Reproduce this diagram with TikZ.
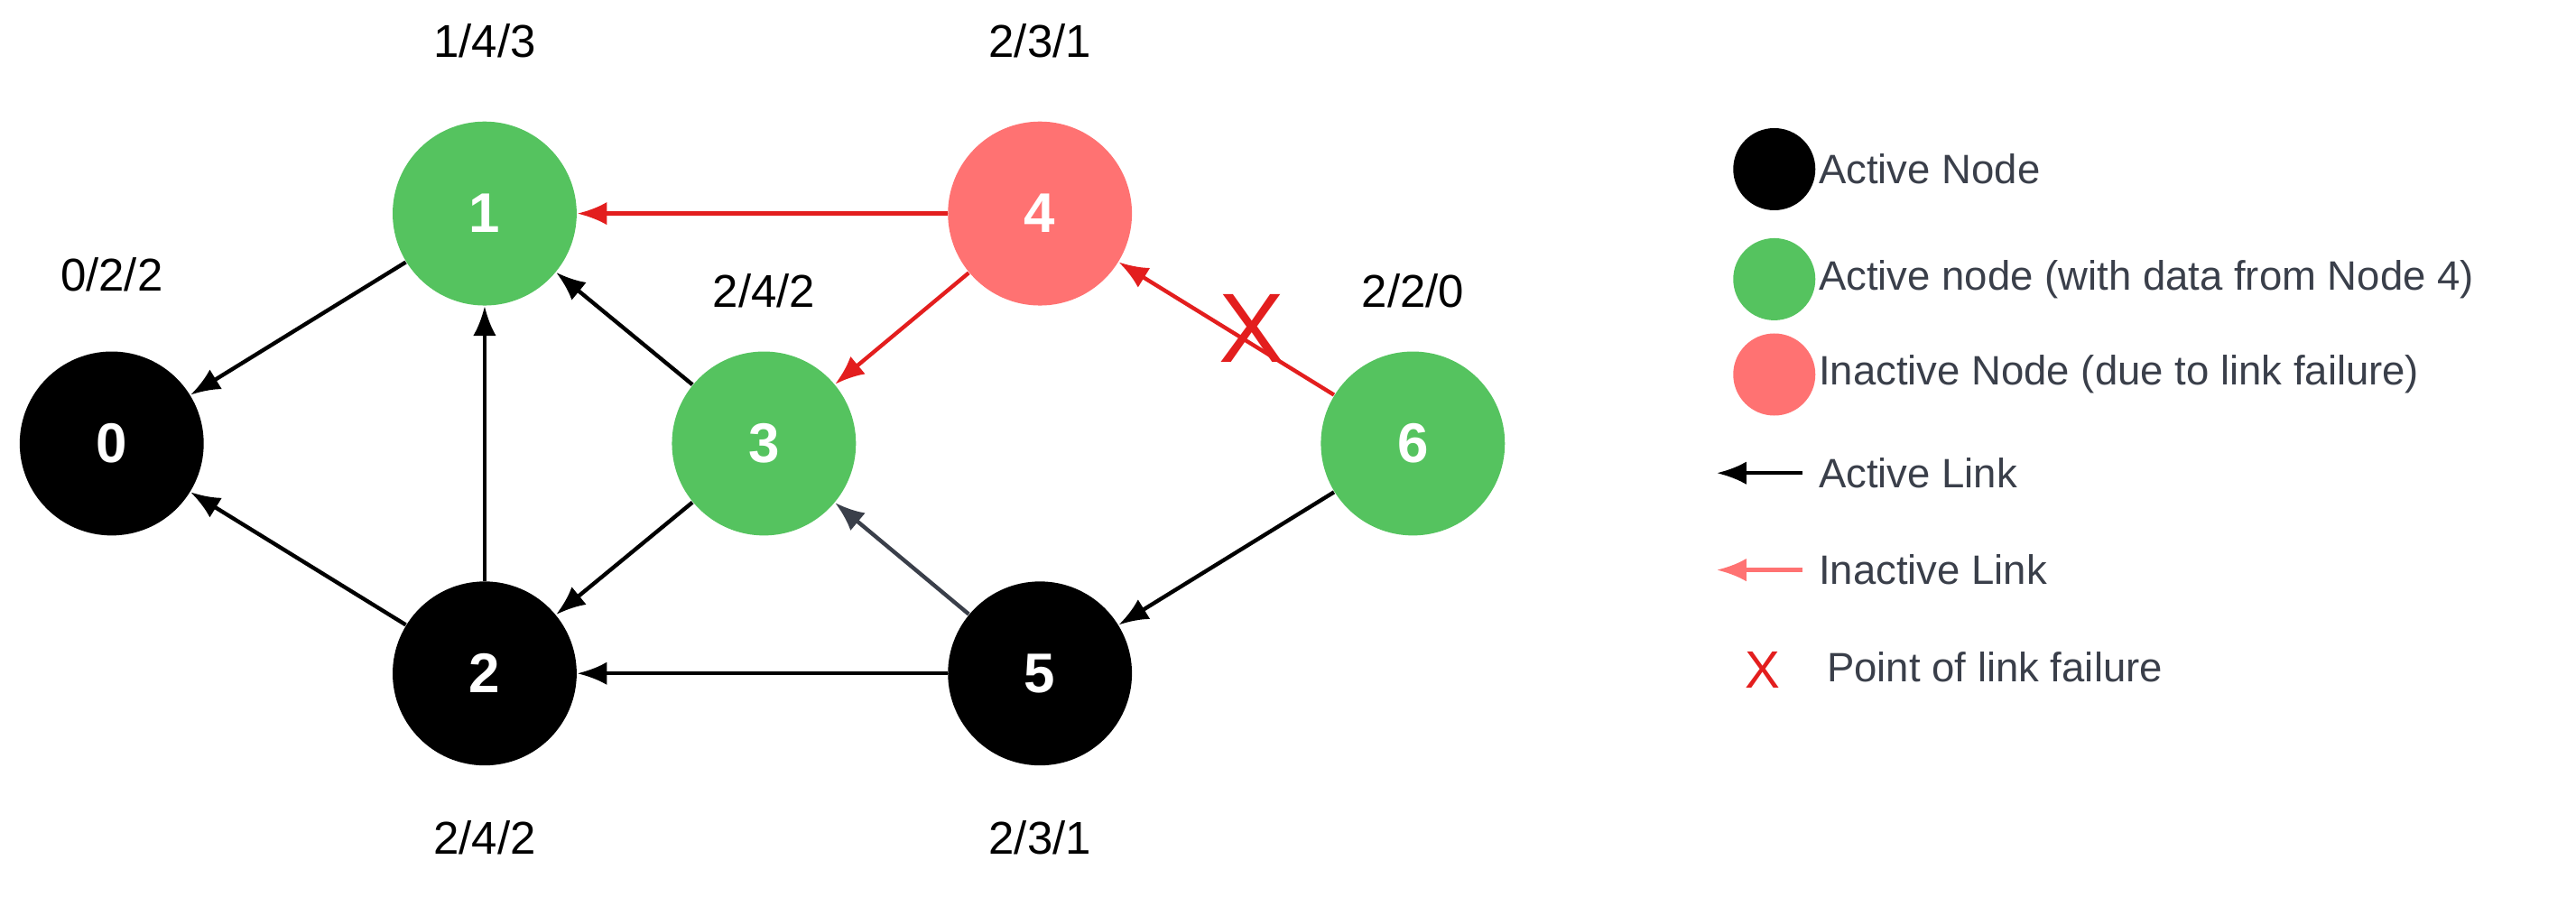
\documentclass[tikz,border=0pt]{standalone}
\usepackage{fontspec}
\setmainfont{Liberation Sans}
\usetikzlibrary{arrows.meta}
\definecolor{gr}{HTML}{55C35F}
\definecolor{pk}{HTML}{FF7272}
\definecolor{rd}{HTML}{E31E1E}
\definecolor{dg}{HTML}{3A3F4A}
\definecolor{tx}{HTML}{3A3F4A}
\begin{document}
\begin{tikzpicture}[x=0.5pt,y=-0.5pt,
  nd/.style={circle,minimum size=56pt,inner sep=0pt,font=\fontsize{17}{17}\selectfont\bfseries,text=white},
  lg/.style={circle,minimum size=25pt,inner sep=0pt},
  lab/.style={font=\fontsize{14}{14}\selectfont},
  lt/.style={anchor=west,font=\fontsize{12.5}{13}\selectfont,text=tx},
  ar/.style={-{Latex[length=9pt,width=7pt]},line width=1.2pt}]
\useasboundingbox (0,0) rectangle (1568,546);
\node[nd,fill=black] (n0) at (68,270) {0};
\node[nd,fill=gr] (n1) at (295,130) {1};
\node[nd,fill=black] (n2) at (295,410) {2};
\node[nd,fill=gr] (n3) at (465,270) {3};
\node[nd,fill=pk] (n4) at (633,130) {4};
\node[nd,fill=black] (n5) at (633,410) {5};
\node[nd,fill=gr] (n6) at (860,270) {6};
\node[lab] (l1) at (295,25) {1/4/3};
\node[lab] (l4) at (633,25) {2/3/1};
\node[lab] (l0) at (68,167) {0/2/2};
\node[lab] (l3) at (465,177) {2/4/2};
\node[lab] (l6) at (860,177) {2/2/0};
\node[lab] (l2) at (295,510) {2/4/2};
\node[lab] (l5) at (633,510) {2/3/1};
\draw[ar] (n1) -- (n0);
\draw[ar] (n2) -- (n0);
\draw[ar] (n2) -- (n1);
\draw[ar] (n3) -- (n1);
\draw[ar] (n3) -- (n2);
\draw[ar] (n5) -- (n2);
\draw[ar,dg] (n5) -- (n3);
\draw[ar] (n6) -- (n5);
\draw[ar,rd] (n4) -- (n1);
\draw[ar,rd] (n4) -- (n3);
\draw[ar,rd] (n6) -- (n4);
\node[text=rd,font=\fontsize{30}{30}\selectfont] (x) at (762,200) {X};
% legend
\node[lg,fill=black] (g1) at (1080,103) {};
\node[lt] (t1) at (1100,103) {Active Node};
\node[lg,fill=gr] (g2) at (1080,170) {};
\node[lt] (t2) at (1100,170) {Active node (with data from Node 4)};
\node[lg,fill=pk] (g3) at (1080,228) {};
\node[lt] (t3) at (1100,228) {Inactive Node (due to link failure)};
\coordinate (a1) at (1097,288); \coordinate (b1) at (1045,288);
\draw[ar] (a1) -- (b1);
\node[lt] (t4) at (1100,288) {Active Link};
\coordinate (a2) at (1097,347); \coordinate (b2) at (1045,347);
\draw[ar,pk] (a2) -- (b2);
\node[lt] (t5) at (1100,347) {Inactive Link};
\node[text=rd,font=\fontsize{16}{16}\selectfont] (x2) at (1073,408) {X};
\node[lt] (t6) at (1105,406) {Point of link failure};
\end{tikzpicture}
\end{document}
